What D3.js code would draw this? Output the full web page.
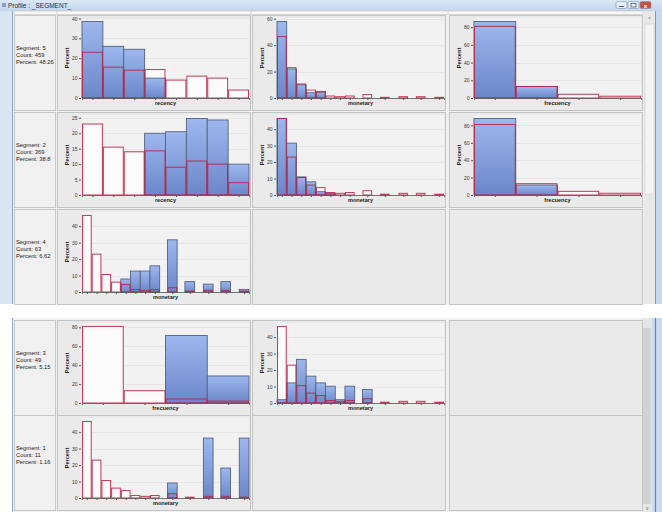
<!DOCTYPE html>
<html>
<head>
<meta charset="utf-8">
<script src="https://cdn.jsdelivr.net/npm/d3@7/dist/d3.min.js"></script>
<style>
  body { margin: 0; background: #fff; }
  svg { display: block; font-family: "Liberation Sans", Arial, sans-serif; }
</style>
</head>
<body>
<div id="chart"></div>
<script>
// Bin start positions (in bin units) for each profiled variable
const recencyBins = [0, 1, 2, 3, 4, 5, 6, 7];
const monetaryBins = [0, 1, 2, 3, 4, 5, 6, 7, 8.8, 10.6, 12.5, 14.3, 16.2];
const frequencyBins = [0, 1, 2, 3];

// Overall distribution (red outline), percent
const overallRecency = [23, 15.5, 14, 14.3, 9, 11, 10, 4];
const overallMonetary = [46.5, 23, 10.6, 6, 4.5, 1.5, 1, 1.5, 2.6, 0.5, 1, 1, 0.5];
const overallFrequency = [81, 13, 4.2, 2];

// Segment distributions (blue bars), percent
const seg5Recency = [38.5, 26, 24.5, 10, 0, 0, 0, 0];
const seg5Monetary = [58, 22, 10, 4, 5, 0, 0, 0, 0, 0, 0, 0, 0];
const seg5Frequency = [86.5, 13, 0, 0];
const seg2Recency = [0, 0, 0, 20, 20.5, 24.8, 24.3, 10];
const seg2Monetary = [46.5, 31.5, 11, 8, 2, 1, 0, 0, 0, 0, 0, 0, 0];
const seg2Frequency = [88, 11.5, 0, 0];
const seg4Monetary = [0, 0, 0, 0, 7.9, 12.7, 12.7, 15.9, 31.7, 6.3, 4.8, 6.3, 1.6];
const seg3Frequency = [0, 0, 71.4, 28.6];
const seg3Monetary = [2, 12.2, 26.5, 16.3, 12.2, 10.2, 2, 10.2, 8.2, 0, 0, 0, 0];
const seg1Monetary = [0, 0, 0, 0, 0, 0, 0, 0, 9.1, 0, 36.4, 18.2, 36.4];

// Row labels
const segIds = ['5', '2', '4', '3', '1'];
const segCounts = ['459', '369', '63', '49', '11'];
const segPercents = ['48.26', '38.8', '6.62', '5.15', '1.16'];

const variables = {
  recency:   { bins: recencyBins,   overall: overallRecency },
  monetary:  { bins: monetaryBins,  overall: overallMonetary },
  frequency: { bins: frequencyBins, overall: overallFrequency }
};
const axisNames = { recency: 'recency', monetary: 'monetary', frequency: 'frecuency' };

// row -> list of [variable, values] per column
const rows = [
  [['recency', seg5Recency], ['monetary', seg5Monetary], ['frequency', seg5Frequency]],
  [['recency', seg2Recency], ['monetary', seg2Monetary], ['frequency', seg2Frequency]],
  [['monetary', seg4Monetary], null, null],
  [['frequency', seg3Frequency], ['monetary', seg3Monetary], null],
  [['monetary', seg1Monetary], null, null]
];

const width = 662, height = 512;
const rowTops = [15, 112, 209, 320, 415];
const colLefts = [57, 252, 449];
const colWidth = 194;
const cellHeight = 95;

const svg = d3.select('#chart').append('svg')
  .attr('width', width)
  .attr('height', height);

const defs = svg.append('defs');
const grad = defs.append('linearGradient').attr('id', 'barGrad')
  .attr('x1', 0).attr('y1', 0).attr('x2', 0).attr('y2', 1);
grad.append('stop').attr('offset', '0%').attr('stop-color', '#9db7ee');
grad.append('stop').attr('offset', '100%').attr('stop-color', '#6c87c9');

const titleGrad = defs.append('linearGradient').attr('id', 'titleGrad')
  .attr('x1', 0).attr('y1', 0).attr('x2', 0).attr('y2', 1);
titleGrad.append('stop').attr('offset', '0%').attr('stop-color', '#dbe7f5');
titleGrad.append('stop').attr('offset', '100%').attr('stop-color', '#c3d6ed');

// ---- top screenshot: window frame ----
svg.append('rect').attr('x', 0).attr('y', 0).attr('width', width).attr('height', 304)
  .attr('fill', '#f0f0f0');
svg.append('rect').attr('x', 0).attr('y', 0).attr('width', width).attr('height', 11)
  .attr('fill', 'url(#titleGrad)');
svg.append('rect').attr('x', 0).attr('y', 11).attr('width', 12).attr('height', 293)
  .attr('fill', '#d9e5f3');
svg.append('line').attr('x1', 12.5).attr('x2', 12.5).attr('y1', 11).attr('y2', 304)
  .attr('stroke', '#8fa8c8');
svg.append('rect').attr('x', 655).attr('y', 11).attr('width', 7).attr('height', 293)
  .attr('fill', '#c6d9ef');
svg.append('line').attr('x1', 655.5).attr('x2', 655.5).attr('y1', 11).attr('y2', 304)
  .attr('stroke', '#6f9ccc');
svg.append('rect').attr('x', 2).attr('y', 3).attr('width', 4).attr('height', 4)
  .attr('fill', '#8aa0bc');
svg.append('text').attr('x', 8).attr('y', 8)
  .attr('font-size', 6.5).attr('fill', '#1c2c44')
  .text('Profile : _SEGMENT_');

// window buttons
[[616, '#e4ecf6'], [628, '#e4ecf6'], [640, '#c8503e']].forEach(([bx, c]) => {
  svg.append('rect').attr('x', bx).attr('y', 1.5).attr('width', 11).attr('height', 7)
    .attr('rx', 1.5).attr('fill', c).attr('stroke', '#7d93ae').attr('stroke-width', 0.6);
});
svg.append('line').attr('x1', 619).attr('x2', 624).attr('y1', 6.5).attr('y2', 6.5)
  .attr('stroke', '#333').attr('stroke-width', 0.8);
svg.append('rect').attr('x', 631).attr('y', 3.5).attr('width', 5).attr('height', 3.5)
  .attr('fill', 'none').attr('stroke', '#333').attr('stroke-width', 0.6);
svg.append('text').attr('x', 645.5).attr('y', 7.6).attr('text-anchor', 'middle')
  .attr('font-size', 6).attr('font-weight', 'bold').attr('fill', '#fff').text('x');

// header strip
svg.append('rect').attr('x', 14).attr('y', 11).attr('width', 629).attr('height', 3.5)
  .attr('fill', '#f7f7f7').attr('stroke', '#c4c4c4').attr('stroke-width', 0.6);
[57, 251, 448].forEach(hx => {
  svg.append('line').attr('x1', hx).attr('x2', hx).attr('y1', 11).attr('y2', 14.5)
    .attr('stroke', '#c4c4c4').attr('stroke-width', 0.6);
});

// top scrollbar
svg.append('rect').attr('x', 644).attr('y', 11).attr('width', 11).attr('height', 293)
  .attr('fill', '#e8e8e8');
svg.append('rect').attr('x', 645).attr('y', 24).attr('width', 9).attr('height', 170)
  .attr('fill', '#f4f4f4').attr('stroke', '#cfcfcf').attr('stroke-width', 0.6);
svg.append('text').attr('x', 649.5).attr('y', 21).attr('text-anchor', 'middle')
  .attr('font-size', 5).attr('fill', '#555').text('^');

// ---- bottom screenshot ----
svg.append('rect').attr('x', 0).attr('y', 304).attr('width', width).attr('height', 14)
  .attr('fill', '#ffffff');
svg.append('rect').attr('x', 12).attr('y', 318).attr('width', 644).attr('height', 194)
  .attr('fill', '#f0f0f0');
svg.append('line').attr('x1', 12.5).attr('x2', 12.5).attr('y1', 318).attr('y2', 512)
  .attr('stroke', '#8fa8c8');
svg.append('rect').attr('x', 642).attr('y', 318).attr('width', 10).attr('height', 194)
  .attr('fill', '#e6e6e6');
svg.append('rect').attr('x', 643).attr('y', 328).attr('width', 8).attr('height', 176)
  .attr('fill', '#d2d2d2');
svg.append('text').attr('x', 647).attr('y', 510).attr('text-anchor', 'middle')
  .attr('font-size', 4.5).attr('fill', '#555').text('v');
svg.append('rect').attr('x', 652).attr('y', 318).attr('width', 10).attr('height', 194)
  .attr('fill', '#c9dcf0');
svg.append('line').attr('x1', 655.5).attr('x2', 655.5).attr('y1', 318).attr('y2', 512)
  .attr('stroke', '#4f8fc6').attr('stroke-width', 1.2);

// ---- rows ----
rows.forEach((row, ri) => {
  const ty = rowTops[ri];

  // label cell
  svg.append('rect').attr('x', 14.5).attr('y', ty + 0.5).attr('width', 41).attr('height', cellHeight)
    .attr('fill', '#f0f0f0').attr('stroke', '#c8c8c8');
  const lbl = svg.append('text').attr('x', 16).attr('y', ty + 35)
    .attr('font-size', 5.8).attr('fill', '#222');
  [`Segment: ${segIds[ri]}`, `Count: ${segCounts[ri]}`, `Percent: ${segPercents[ri]}`]
    .forEach((t, i) => lbl.append('tspan').attr('x', 16).attr('dy', i === 0 ? 0 : 7).text(t));

  colLefts.forEach((cx, ci) => {
    const cell = svg.append('g');
    cell.append('rect').attr('x', cx + 0.5).attr('y', ty + 0.5)
      .attr('width', colWidth - 1).attr('height', cellHeight)
      .attr('fill', '#eaeaea').attr('stroke', '#c4c4c4');
    const spec = row[ci];
    if (spec) drawPanel(cell, cx, ty, spec[0], spec[1]);
  });
});

function drawPanel(g, cx, ty, variable, values) {
  const v = variables[variable];
  const bins = v.bins;
  const overall = v.overall;
  const left = cx + 25, right = cx + colWidth - 2;
  const top = ty + 3, bottom = ty + 83;

  const data = bins.map((b, i) => ({ start: b, seg: values[i], all: overall[i] }));

  const x = d3.scaleLinear()
    .domain([0, bins[bins.length - 1] + 1])
    .range([left, right]);
  const yMax = d3.max(data, d => Math.max(d.seg, d.all)) * 1.045;
  const y = d3.scaleLinear().domain([0, yMax]).range([bottom, top]);

  // plot background + grid
  g.append('rect').attr('x', left).attr('y', top).attr('width', right - left).attr('height', bottom - top)
    .attr('fill', '#f2f2f2');
  g.append('g').selectAll('line').data(y.ticks(4).slice(1)).join('line')
    .attr('x1', left).attr('x2', right)
    .attr('y1', d => Math.round(y(d)) + 0.5).attr('y2', d => Math.round(y(d)) + 0.5)
    .attr('stroke', '#e1e1e1').attr('stroke-width', 0.8);

  const bw = x(1) - x(0);

  // overall fill (under segment bars)
  g.append('g').selectAll('rect').data(data.filter(d => d.all > 0)).join('rect')
    .attr('x', d => x(d.start)).attr('y', d => y(d.all))
    .attr('width', bw).attr('height', d => y(0) - y(d.all))
    .attr('fill', '#fbfbfb');

  // segment bars
  g.append('g').selectAll('rect').data(data.filter(d => d.seg > 0)).join('rect')
    .attr('x', d => x(d.start)).attr('y', d => y(d.seg))
    .attr('width', bw).attr('height', d => y(0) - y(d.seg))
    .attr('fill', 'url(#barGrad)')
    .attr('stroke', '#56627e').attr('stroke-width', 0.9);

  // overall outline on top
  g.append('g').selectAll('rect').data(data.filter(d => d.all > 0)).join('rect')
    .attr('x', d => x(d.start) + 0.5).attr('y', d => y(d.all))
    .attr('width', bw - 1).attr('height', d => Math.max(0.6, y(0) - y(d.all)))
    .attr('fill', 'none')
    .attr('stroke', '#b92548').attr('stroke-opacity', 0.9).attr('stroke-width', 1);

  // y axis
  const ya = g.append('g')
    .attr('transform', `translate(${left - 1},0)`)
    .call(d3.axisLeft(y).ticks(4).tickSize(2).tickPadding(1.5));
  ya.select('.domain').remove();
  ya.selectAll('.tick line').attr('stroke', '#555');
  ya.selectAll('.tick text').attr('font-size', 5).attr('fill', '#333')
    .attr('font-family', '"Liberation Sans", Arial, sans-serif');

  // x axis
  const xa = g.append('g')
    .attr('transform', `translate(0,${bottom})`)
    .call(d3.axisBottom(x).tickValues(bins.map(b => b + 0.5)).tickSize(2).tickFormat(''));
  xa.select('.domain').attr('stroke', '#555').attr('stroke-width', 0.8);
  xa.selectAll('.tick line').attr('stroke', '#555');

  // labels
  g.append('text')
    .attr('transform', `translate(${cx + 12},${(top + bottom) / 2}) rotate(-90)`)
    .attr('text-anchor', 'middle').attr('font-size', 5.6).attr('font-weight', 'bold')
    .attr('fill', '#222').text('Percent');
  g.append('text')
    .attr('x', (left + right) / 2).attr('y', bottom + 7)
    .attr('text-anchor', 'middle').attr('font-size', 5.6).attr('font-weight', 'bold')
    .attr('fill', '#222').text(axisNames[variable]);
}
</script>
</body>
</html>
